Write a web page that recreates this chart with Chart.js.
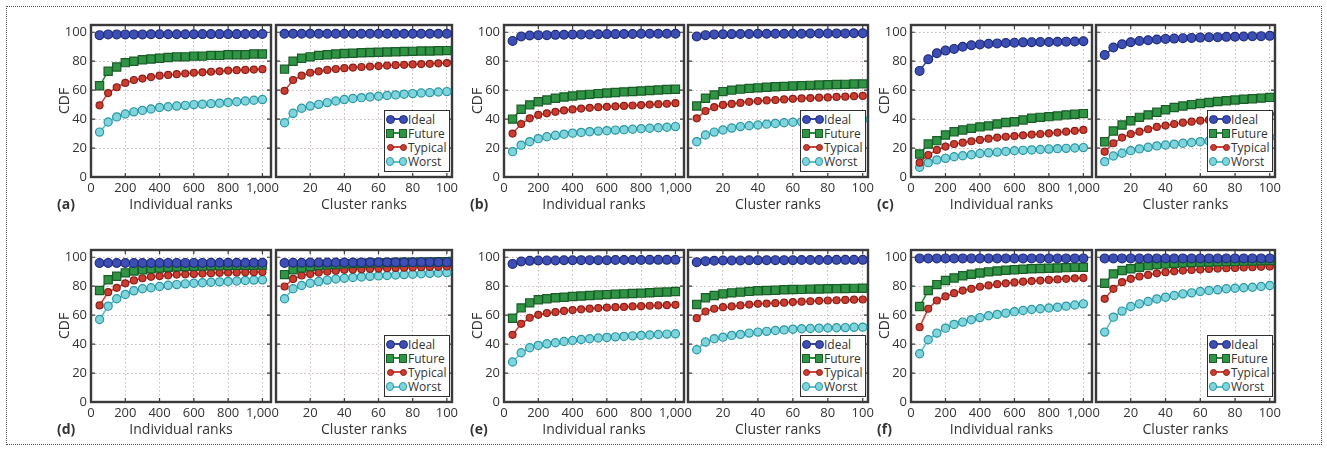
<!DOCTYPE html>
<html>
<head>
<meta charset="utf-8">
<script src="https://cdn.jsdelivr.net/npm/chart.js@4.4.0/dist/chart.umd.min.js"></script>
<style>
  body { margin: 0; background: #fff; }
  #fig { position: relative; width: 1327px; height: 451px; font-family: 'Open Sans', sans-serif; color: #333; overflow: hidden; }
  #border { position: absolute; left: 6px; top: 6px; width: 1316px; height: 439px; border: 1px dotted #555; box-sizing: border-box; }
  canvas { position: absolute; }
  .tag { position: absolute; font-weight: bold; font-size: 14px; line-height: 16px; color: #333; }
  .legend { position: absolute; width: 66px; height: 62px; box-sizing: border-box; border: 1.5px solid #2f2f2f; background: #fff; padding-top: 1px; font-size: 12px; color: #333; }
  .legend .row { height: 14.2px; display: flex; align-items: center; white-space: nowrap; }
  .sym { position: relative; width: 21px; height: 10px; margin: 0 1px 0 1px; flex: none; }
  .sym .ln { position: absolute; left: 4px; right: 4px; top: 4px; height: 2px; }
  .sym .mk { position: absolute; box-sizing: border-box; }
</style>
</head>
<body>
<div id="fig"><div id="border"></div></div>
<script>
// ---- data ----
const indRanks = [50, 100, 150, 200, 250, 300, 350, 400, 450, 500, 550, 600, 650, 700, 750, 800, 850, 900, 950, 1000];
const clusterRanks = [5, 10, 15, 20, 25, 30, 35, 40, 45, 50, 55, 60, 65, 70, 75, 80, 85, 90, 95, 100];
const seriesNames = ['Ideal', 'Future', 'Typical', 'Worst'];
const panelTags = ['(a)', '(b)', '(c)', '(d)', '(e)', '(f)'];
const xTitles = ['Individual ranks', 'Cluster ranks'];
const yTitle = 'CDF';

// (a)
const aIndIdeal   = [98, 98.5, 98.5, 98.5, 98.5, 98.5, 98.6, 98.6, 98.6, 98.6, 98.6, 98.6, 98.7, 98.7, 98.7, 98.7, 98.7, 98.8, 98.8, 98.8];
const aIndFuture  = [63, 73, 76, 79, 80, 81, 81.5, 82, 82.5, 83, 83, 83.5, 83.5, 84, 84, 84.5, 84.5, 84.5, 85, 85];
const aIndTypical = [49.5, 58, 62, 65, 67, 68, 69, 70, 70.5, 71, 71.5, 72, 72.3, 72.7, 73, 73.5, 73.8, 74, 74.2, 74.5];
const aIndWorst   = [31, 38, 41.5, 43.5, 45, 46, 47, 48, 48.5, 49, 49.5, 50, 50.3, 50.7, 51, 51.5, 52, 52.5, 53, 53.5];
const aClIdeal    = [99, 99, 99, 99, 99, 99, 99, 99, 99, 99, 99, 99, 99, 99, 99, 99, 99, 99, 99, 99];
const aClFuture   = [74.5, 80, 82, 83, 84, 84.5, 85, 85.3, 85.5, 85.8, 86, 86.2, 86.4, 86.5, 86.7, 86.8, 87, 87, 87.2, 87.3];
const aClTypical  = [59.5, 67, 70, 72, 73, 74, 74.6, 75.2, 75.6, 76, 76.3, 76.6, 77, 77.3, 77.5, 77.8, 78, 78.2, 78.5, 78.7];
const aClWorst    = [37.5, 44, 47.5, 49, 50.2, 51.4, 52.5, 53.5, 54.2, 54.8, 55.3, 55.8, 56.3, 56.7, 57.2, 57.6, 58, 58.3, 58.7, 59];
// (b)
const bIndIdeal   = [94, 97, 97.7, 98, 98, 98.2, 98.3, 98.4, 98.5, 98.5, 98.6, 98.7, 98.7, 98.8, 98.8, 98.9, 98.9, 99, 99, 99];
const bIndFuture  = [40, 46.8, 49.8, 52, 53.2, 54.4, 55.3, 56, 56.6, 57.1, 57.6, 58, 58.4, 58.8, 59.1, 59.4, 59.8, 60.1, 60.4, 60.6];
const bIndTypical = [30, 36.6, 40.5, 42.9, 44, 45, 46, 46.7, 47.3, 47.8, 48.2, 48.5, 48.8, 49.1, 49.4, 49.7, 50, 50.3, 50.6, 51];
const bIndWorst   = [17.5, 22, 24.4, 26.5, 27.8, 28.8, 29.6, 30.3, 30.8, 31.3, 31.7, 32, 32.4, 32.7, 33, 33.4, 33.7, 34, 34.4, 34.8];
const bClIdeal    = [97, 98, 98.5, 98.6, 98.7, 98.8, 98.8, 98.9, 98.9, 99, 99, 99, 99, 99.1, 99.1, 99.2, 99.2, 99.2, 99.3, 99.3];
const bClFuture   = [49, 54.4, 56.7, 59, 60, 60.7, 61.2, 61.6, 62, 62.3, 62.6, 62.9, 63.1, 63.3, 63.5, 63.7, 63.9, 64, 64.2, 64.3];
const bClTypical  = [40.5, 45.6, 48.2, 49.8, 50.5, 51.2, 51.9, 52.5, 52.9, 53.2, 53.6, 54, 54.3, 54.5, 54.8, 55, 55.3, 55.5, 55.8, 56];
const bClWorst    = [24.4, 29, 31, 32.5, 33.8, 34.8, 35.4, 35.9, 36.5, 37, 37.5, 37.8, 38.1, 38.4, 38.7, 39, 39.2, 39.4, 39.6, 39.8];
// (c)
const cIndIdeal   = [73.3, 81.3, 85.5, 87.3, 88.5, 90, 91, 91.6, 92, 92.3, 92.6, 92.8, 93, 93.1, 93.2, 93.3, 93.4, 93.5, 93.6, 93.8];
const cIndFuture  = [15.9, 22.8, 25.1, 29, 31.3, 32.5, 33.6, 34.6, 35.3, 36.6, 37.6, 38.2, 39.4, 40.6, 41.2, 41.7, 42.2, 42.9, 43.3, 43.8];
const cIndTypical = [9.9, 15.2, 18.7, 21, 22.8, 23.7, 24.7, 25.6, 26.5, 27.2, 27.8, 28.3, 28.8, 29.3, 29.7, 30.2, 30.7, 31.3, 31.9, 32.5];
const cIndWorst   = [6.7, 9.9, 11.8, 12.9, 14, 14.7, 15.4, 16.2, 16.7, 17.2, 17.7, 18.1, 18.4, 18.7, 19, 19.3, 19.6, 19.8, 20, 20.3];
const cClIdeal    = [84.3, 89.4, 91.7, 93.1, 94, 94.5, 95, 95.4, 95.6, 95.9, 96.1, 96.3, 96.5, 96.6, 96.8, 96.9, 97, 97.2, 97.3, 97.5];
const cClFuture   = [24.4, 31.8, 35.9, 38.9, 41.2, 42.9, 44.7, 46.5, 48, 49, 50, 50.8, 51.5, 52.2, 52.7, 53.2, 53.7, 54.1, 54.5, 55];
const cClTypical  = [17.5, 23.3, 27.2, 29.7, 31.3, 33, 34.6, 35.5, 36.6, 37.5, 38.2, 38.9, 39.4, 40, 40.6, 41.2, 41.8, 42.4, 43, 43.5];
const cClWorst    = [10.6, 14.5, 16.4, 18.2, 19.4, 20.5, 21.5, 22.1, 22.7, 23.3, 23.8, 24.4, 24.9, 25.3, 25.7, 26.1, 26.5, 26.9, 27.2, 27.5];
// (d)
const dIndIdeal   = [96, 96, 96, 96, 96, 96, 96, 96.1, 96.1, 96.1, 96.1, 96.1, 96.1, 96.2, 96.2, 96.2, 96.2, 96.2, 96.2, 96.2];
const dIndFuture  = [77, 84.4, 86.9, 89.2, 90.5, 91.4, 92, 92.5, 93, 93.4, 93.6, 93.8, 94, 94.1, 94.2, 94.3, 94.4, 94.5, 94.5, 94.6];
const dIndTypical = [66.7, 75.9, 78.9, 82, 84, 85.5, 86.5, 87, 87.5, 88, 88.2, 88.5, 88.7, 89, 89.2, 89.4, 89.5, 89.6, 89.7, 89.8];
const dIndWorst   = [57, 66.2, 71.3, 74.3, 76.8, 78.2, 78.9, 79.8, 80.6, 81.1, 81.6, 82, 82.4, 82.7, 83, 83.3, 83.6, 83.9, 84.2, 84.4];
const dClIdeal    = [96.1, 96.2, 96.2, 96.3, 96.3, 96.3, 96.4, 96.4, 96.4, 96.4, 96.5, 96.5, 96.5, 96.5, 96.5, 96.5, 96.6, 96.6, 96.6, 96.6];
const dClFuture   = [88, 91.3, 92.6, 93.6, 94.3, 94.7, 95, 95.4, 95.6, 95.8, 96, 96.1, 96.3, 96.4, 96.5, 96.6, 96.7, 96.8, 96.9, 97];
const dClTypical  = [79.8, 85, 87.4, 88.5, 89.4, 90.1, 90.7, 91.3, 91.5, 91.7, 92, 92.2, 92.4, 92.6, 92.8, 92.9, 93.1, 93.3, 93.4, 93.6];
const dClWorst    = [71.3, 78.2, 80.5, 82, 83.2, 84.2, 85, 85.5, 86, 86.4, 86.8, 87.1, 87.4, 87.7, 88, 88.3, 88.6, 88.9, 89.1, 89.4];
// (e)
const eIndIdeal   = [95.4, 97, 97.5, 97.7, 97.8, 97.8, 97.9, 97.9, 98, 98, 98, 98, 98.1, 98.1, 98.1, 98.1, 98.2, 98.2, 98.2, 98.2];
const eIndFuture  = [57.9, 65, 68.5, 70.6, 71.3, 72, 72.4, 72.9, 73.2, 73.6, 73.9, 74.2, 74.5, 74.7, 75, 75.2, 75.5, 75.8, 76, 76.3];
const eIndTypical = [46.4, 54, 58.2, 60.2, 61.4, 62.1, 62.9, 63.5, 64, 64.5, 64.9, 65.2, 65.5, 65.7, 66, 66.2, 66.5, 66.7, 66.9, 67.1];
const eIndWorst   = [27.6, 34, 37.5, 39.1, 40.2, 40.9, 41.8, 42.5, 43.2, 43.7, 44.2, 44.6, 45, 45.3, 45.7, 46, 46.3, 46.6, 46.9, 47.1];
const eClIdeal    = [96.6, 97.3, 97.6, 97.7, 97.8, 97.8, 97.9, 97.9, 98, 98, 98, 98, 98.1, 98.1, 98.1, 98.1, 98.2, 98.2, 98.2, 98.2];
const eClFuture   = [67.4, 72, 73.6, 74.7, 75.4, 75.9, 76.4, 76.8, 77, 77.2, 77.5, 77.7, 77.8, 78, 78.1, 78.2, 78.3, 78.4, 78.5, 78.6];
const eClTypical  = [57.9, 62.5, 64.4, 65.5, 66, 66.7, 67.3, 67.8, 68, 68.3, 68.6, 69, 69.3, 69.6, 69.9, 70.1, 70.3, 70.5, 70.7, 70.8];
const eClWorst    = [36.1, 41.4, 43.7, 44.8, 46, 46.7, 47.6, 48.3, 48.8, 49.4, 49.8, 50.3, 50.6, 50.8, 51, 51.1, 51.3, 51.4, 51.6, 51.7];
// (f)
const fIndIdeal   = [99.2, 99.2, 99.2, 99.2, 99.2, 99.2, 99.2, 99.2, 99.2, 99.2, 99.2, 99.2, 99.2, 99.2, 99.2, 99.2, 99.2, 99.2, 99.2, 99.2];
const fIndFuture  = [66, 77, 81.1, 83.9, 85.7, 87.2, 88.3, 89.1, 89.9, 90.5, 91, 91.4, 91.7, 92, 92.2, 92.4, 92.6, 92.8, 93, 93.1];
const fIndTypical = [51.7, 64.4, 70.1, 72.9, 75.2, 77, 78.2, 79.6, 80.5, 81.4, 82, 82.6, 83.1, 83.5, 83.9, 84.3, 84.7, 85.1, 85.4, 85.7];
const fIndWorst   = [33.3, 43, 47.6, 51, 53.6, 55.2, 56.8, 58.3, 59.6, 60.5, 61.4, 62.4, 63.2, 63.9, 64.4, 64.9, 65.5, 66.2, 67, 67.8];
const fClIdeal    = [99.2, 99.2, 99.2, 99.2, 99.2, 99.2, 99.2, 99.2, 99.2, 99.2, 99.2, 99.2, 99.2, 99.2, 99.2, 99.2, 99.2, 99.2, 99.2, 99.2];
const fClFuture   = [82, 88.5, 90.8, 92, 93.1, 94.2, 94.9, 95.4, 95.8, 96.1, 96.3, 96.6, 96.7, 96.9, 97, 97.1, 97.3, 97.4, 97.6, 97.7];
const fClTypical  = [71.3, 78.2, 82.8, 85.1, 86.7, 87.8, 88.9, 89.7, 90.3, 90.8, 91.2, 91.5, 91.9, 92.2, 92.4, 92.6, 92.9, 93.1, 93.4, 93.6];
const fClWorst    = [48.3, 58.6, 62.8, 66, 67.8, 69.4, 71.2, 72.4, 73.6, 74.7, 75.4, 76.3, 77, 77.5, 78.2, 78.6, 78.9, 79.3, 79.8, 80.5];

// ---- layout / style ----
const FONT = "'Open Sans', sans-serif";
const rowTops = [25, 250];
const AREA_H = 152;
const colEdges = [
  { ind: [91, 271], cl: [276, 452] },
  { ind: [504, 684], cl: [688, 868] },
  { ind: [911, 1092], cl: [1096, 1275] }
];
const seriesStyle = [
  { line: '#3a4aa6', fill: '#3d4fb2', edge: '#1f2b7c', shape: 'circle', r: 4.4, size: 9 },
  { line: '#2e8a40', fill: '#2f9545', edge: '#1b5c29', shape: 'rect', r: 5.8, size: 8.5 },
  { line: '#c9463a', fill: '#cc3d31', edge: '#8a1f18', shape: 'circle', r: 3.5, size: 7 },
  { line: '#5cc0cc', fill: '#7fd5db', edge: '#2a96a6', shape: 'circle', r: 4.1, size: 8.5 }
];

const panels = [
  { ind: [aIndIdeal, aIndFuture, aIndTypical, aIndWorst], cl: [aClIdeal, aClFuture, aClTypical, aClWorst] },
  { ind: [bIndIdeal, bIndFuture, bIndTypical, bIndWorst], cl: [bClIdeal, bClFuture, bClTypical, bClWorst] },
  { ind: [cIndIdeal, cIndFuture, cIndTypical, cIndWorst], cl: [cClIdeal, cClFuture, cClTypical, cClWorst] },
  { ind: [dIndIdeal, dIndFuture, dIndTypical, dIndWorst], cl: [dClIdeal, dClFuture, dClTypical, dClWorst] },
  { ind: [eIndIdeal, eIndFuture, eIndTypical, eIndWorst], cl: [eClIdeal, eClFuture, eClTypical, eClWorst] },
  { ind: [fIndIdeal, fIndFuture, fIndTypical, fIndWorst], cl: [fClIdeal, fClFuture, fClTypical, fClWorst] }
];

const fig = document.getElementById('fig');

// frame round the plot area, with small inward ticks at the grid positions
const framePlugin = {
  id: 'frame',
  beforeDatasetsDraw(chart) {
    const a = chart.chartArea, ctx = chart.ctx;
    const sx = chart.scales.x, sy = chart.scales.y;
    ctx.save();
    ctx.strokeStyle = '#3a3a3a';
    ctx.lineWidth = 1.2;
    ctx.beginPath();
    sx.ticks.forEach(t => {
      const px = sx.getPixelForValue(t.value);
      ctx.moveTo(px, a.bottom); ctx.lineTo(px, a.bottom - 4);
      ctx.moveTo(px, a.top); ctx.lineTo(px, a.top + 4);
    });
    sy.ticks.forEach(t => {
      const py = sy.getPixelForValue(t.value);
      ctx.moveTo(a.left, py); ctx.lineTo(a.left + 4, py);
      ctx.moveTo(a.right, py); ctx.lineTo(a.right - 4, py);
    });
    ctx.stroke();
    ctx.lineWidth = 2.4;
    ctx.strokeRect(a.left, a.top, a.right - a.left, a.bottom - a.top);
    ctx.restore();
  }
};

function makeChart(x0, x1, top, xs, sets, ind) {
  const L = ind ? 46 : 10, R = 22, T = 16, B = 44;
  const yW = ind ? 38 : 0, xH = 40;
  const cv = document.createElement('canvas');
  cv.width = (x1 - x0) + L + R;
  cv.height = AREA_H + T + B;
  cv.style.left = (x0 - L) + 'px';
  cv.style.top = (top - T) + 'px';
  fig.appendChild(cv);

  new Chart(cv, {
    type: 'line',
    data: {
      datasets: sets.map((ys, k) => {
        const st = seriesStyle[k];
        return {
          label: seriesNames[k],
          data: xs.map((x, i) => ({ x: x, y: ys[i] })),
          borderColor: st.line,
          borderWidth: 1.6,
          backgroundColor: st.fill,
          pointStyle: st.shape,
          pointRadius: st.r,
          pointBackgroundColor: st.fill,
          pointBorderColor: st.edge,
          pointBorderWidth: 1.2,
          tension: 0,
          clip: false
        };
      })
    },
    options: {
      responsive: false,
      animation: false,
      devicePixelRatio: 1,
      layout: { padding: { left: L - yW, right: R, top: T, bottom: B - xH } },
      plugins: { legend: { display: false }, tooltip: { enabled: false } },
      scales: {
        x: {
          type: 'linear',
          min: 0,
          max: ind ? 1050 : 103,
          afterFit(s) { s.height = xH; },
          ticks: {
            stepSize: ind ? 200 : 20,
            includeBounds: false,
            autoSkip: false,
            maxRotation: 0,
            padding: 3,
            color: '#333',
            font: { family: FONT, size: 13 },
            callback: v => (!ind && v === 0) ? '' : v.toLocaleString('en-US')
          },
          grid: { drawTicks: false, color: '#c4bcbc', lineWidth: 1 },
          border: { display: false, dash: [1.5, 2.5] },
          title: {
            display: true,
            text: ind ? xTitles[0] : xTitles[1],
            color: '#333',
            font: { family: FONT, size: 14 },
            padding: { top: 0, bottom: 4 }
          }
        },
        y: {
          min: 0,
          max: 105,
          afterFit(s) { s.width = yW; },
          ticks: {
            display: ind,
            stepSize: 20,
            includeBounds: false,
            padding: 4,
            color: '#333',
            font: { family: FONT, size: 13 }
          },
          grid: { drawTicks: false, color: '#c4bcbc', lineWidth: 1 },
          border: { display: false, dash: [1.5, 2.5] },
          title: {
            display: ind,
            text: yTitle,
            color: '#333',
            font: { family: FONT, size: 14 },
            padding: { top: 4, bottom: 0 }
          }
        }
      }
    },
    plugins: [framePlugin]
  });
}

function makeLegend(right, bottom) {
  const lg = document.createElement('div');
  lg.className = 'legend';
  lg.style.left = (right - 2 - 66) + 'px';
  lg.style.top = (bottom - 5 - 62) + 'px';
  seriesNames.forEach((name, k) => {
    const st = seriesStyle[k];
    const row = document.createElement('div');
    row.className = 'row';
    const sym = document.createElement('span');
    sym.className = 'sym';
    const ln = document.createElement('i');
    ln.className = 'ln';
    ln.style.background = st.line;
    sym.appendChild(ln);
    [0, 1].forEach(j => {
      const mk = document.createElement('i');
      mk.className = 'mk';
      mk.style.width = st.size + 'px';
      mk.style.height = st.size + 'px';
      mk.style.top = (5 - st.size / 2) + 'px';
      mk.style.left = (j === 0 ? 4 - st.size / 2 : 17 - st.size / 2) + 'px';
      mk.style.background = st.fill;
      mk.style.border = '1.2px solid ' + st.edge;
      mk.style.borderRadius = st.shape === 'circle' ? '50%' : '0';
      sym.appendChild(mk);
    });
    row.appendChild(sym);
    const txt = document.createElement('span');
    txt.textContent = name;
    row.appendChild(txt);
    lg.appendChild(row);
  });
  fig.appendChild(lg);
}

panels.forEach((p, n) => {
  const row = Math.floor(n / 3), col = n % 3;
  const top = rowTops[row];
  const c = colEdges[col];
  makeChart(c.ind[0], c.ind[1], top, indRanks, p.ind, true);
  makeChart(c.cl[0], c.cl[1], top, clusterRanks, p.cl, false);
  makeLegend(c.cl[1], top + AREA_H);
  const tag = document.createElement('div');
  tag.className = 'tag';
  tag.textContent = panelTags[n];
  tag.style.left = (c.ind[0] - 34) + 'px';
  tag.style.top = (top + AREA_H + 19) + 'px';
  fig.appendChild(tag);
});
</script>
</body>
</html>
